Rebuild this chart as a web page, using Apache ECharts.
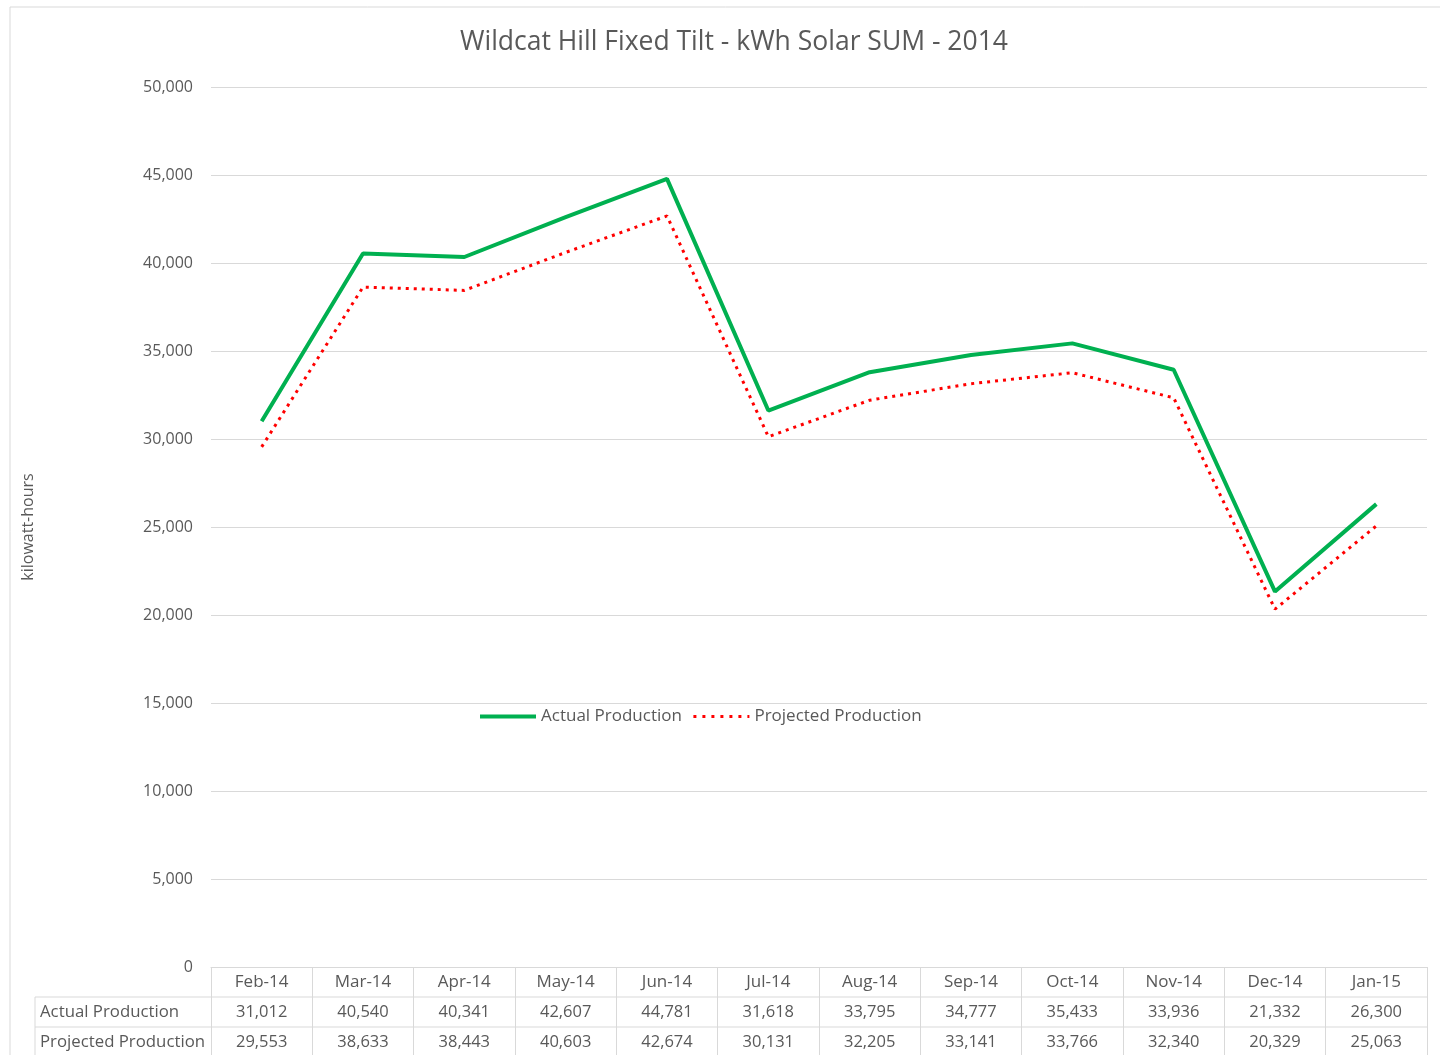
<!DOCTYPE html>
<html>
<head>
<meta charset="utf-8">
<title>Wildcat Hill Fixed Tilt</title>
<script src="https://cdn.jsdelivr.net/npm/echarts@6/dist/echarts.min.js"></script>
<style>
  html, body { margin: 0; padding: 0; background: #fff; }
  #chart { width: 1440px; height: 1055px; }
</style>
</head>
<body>
<div id="chart"></div>
<script>
var months = ['Feb-14', 'Mar-14', 'Apr-14', 'May-14', 'Jun-14', 'Jul-14', 'Aug-14', 'Sep-14', 'Oct-14', 'Nov-14', 'Dec-14', 'Jan-15'];
var actual = [31012, 40540, 40341, 42607, 44781, 31618, 33795, 34777, 35433, 33936, 21332, 26300];
var projected = [29553, 38633, 38443, 40603, 42674, 30131, 32205, 33141, 33766, 32340, 20329, 25063];
var seriesNames = ['Actual Production', 'Projected Production'];

var txt = '#595959';
var grey = '#d9d9d9';
var font = '"Open Sans", sans-serif';

function fmt(v) { return v.toLocaleString('en-US'); }

var chart = echarts.init(document.getElementById('chart'));

var option = {
  animation: false,
  textStyle: { fontFamily: font },
  title: {
    text: 'Wildcat Hill Fixed Tilt - kWh Solar SUM - 2014',
    left: 455,
    top: 24,
    textStyle: { color: txt, fontSize: 26.5, fontWeight: 'normal', fontFamily: font }
  },
  legend: {
    left: 473,
    top: 703,
    itemWidth: 56,
    itemHeight: 14,
    itemGap: 10,
    itemStyle: { opacity: 0 },
    textStyle: { color: txt, fontSize: 17, fontFamily: font },
    data: [
      { name: seriesNames[0], lineStyle: { width: 4 } },
      { name: seriesNames[1], lineStyle: { width: 3, type: [3, 6] } }
    ]
  },
  grid: { left: 211, right: 13, top: 87, bottom: 88 },
  xAxis: {
    type: 'category',
    data: months,
    boundaryGap: true,
    axisLine: { lineStyle: { color: grey, width: 1 } },
    axisTick: { show: true, interval: 0, length: 90, lineStyle: { color: grey } },
    axisLabel: {
      interval: 0,
      margin: 0,
      formatter: function (val, i) {
        return '{h|' + val + '}\n{v|' + fmt(actual[i]) + '}\n{v|' + fmt(projected[i]) + '}';
      },
      rich: {
        h: { color: txt, fontSize: 17, lineHeight: 30, fontFamily: font },
        v: { color: txt, fontSize: 16.5, lineHeight: 30, fontFamily: font }
      }
    }
  },
  yAxis: {
    type: 'value',
    min: 0,
    max: 50000,
    interval: 5000,
    name: 'kilowatt-hours',
    nameLocation: 'middle',
    nameGap: 175,
    nameTextStyle: { color: txt, fontSize: 16, fontFamily: font },
    axisLine: { show: false },
    axisTick: { show: false },
    axisLabel: {
      margin: 18,
      color: txt,
      fontSize: 16,
      formatter: function (v) { return fmt(v); }
    },
    splitLine: { lineStyle: { color: grey, width: 1 } }
  },
  series: [
    {
      name: seriesNames[0],
      type: 'line',
      data: actual,
      symbol: 'none',
      lineStyle: { color: '#00b050', width: 4 },
      itemStyle: { color: '#00b050' },
      z: 3
    },
    {
      name: seriesNames[1],
      type: 'line',
      data: projected,
      symbol: 'none',
      lineStyle: { color: '#ff0000', width: 3, type: [3, 5] },
      itemStyle: { color: '#ff0000' },
      z: 2
    }
  ]
};

chart.setOption(option);

// outer frame and data-table rows that the axis itself does not draw
var right = chart.convertToPixel({ xAxisIndex: 0 }, months.length - 1) + 50.7;
var base = chart.convertToPixel({ yAxisIndex: 0 }, 0);
var gfx = [
  { type: 'rect', shape: { x: 10, y: 7, width: 1500, height: 1100 }, style: { fill: null, stroke: grey, lineWidth: 1 } },
  { type: 'line', shape: { x1: 35, y1: base + 30, x2: right, y2: base + 30 }, style: { stroke: grey, lineWidth: 1 } },
  { type: 'line', shape: { x1: 35, y1: base + 60, x2: right, y2: base + 60 }, style: { stroke: grey, lineWidth: 1 } },
  { type: 'line', shape: { x1: 35, y1: base + 30, x2: 35, y2: base + 100 }, style: { stroke: grey, lineWidth: 1 } }
];
seriesNames.forEach(function (n, i) {
  gfx.push({
    type: 'text',
    style: {
      text: n, x: 40, y: base + 45 + i * 30,
      fill: txt, fontSize: 16.8, fontFamily: font,
      textAlign: 'left', textVerticalAlign: 'middle'
    }
  });
});
chart.setOption({ graphic: gfx });
</script>
</body>
</html>
